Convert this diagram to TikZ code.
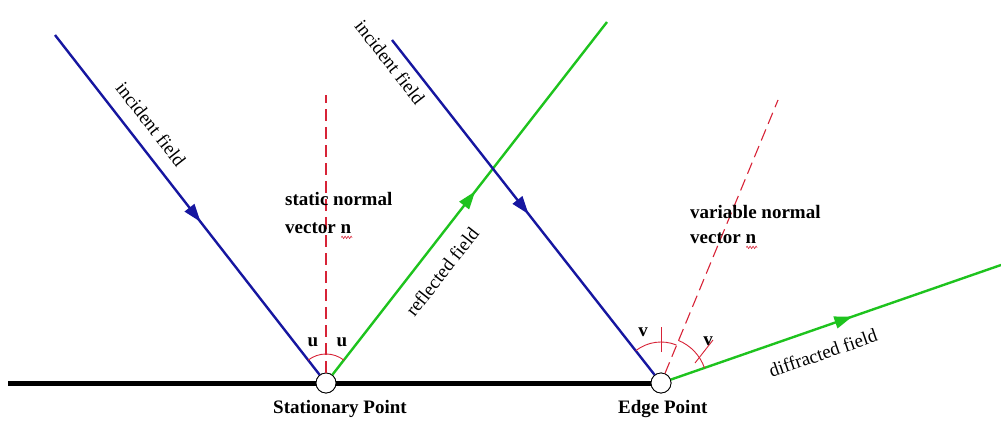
\documentclass[tikz,border=0pt]{standalone}
\usepackage{fontspec}
\setmainfont{Liberation Serif}
\usetikzlibrary{decorations.markings,decorations.pathmorphing,arrows.meta,calc}
\definecolor{rayblue}{RGB}{22,22,160}
\definecolor{raygreen}{RGB}{30,195,30}
\definecolor{nred}{RGB}{215,35,55}
\begin{document}
\begin{tikzpicture}[x=1pt,y=1pt,
  lbl/.style={font=\fontsize{19}{23}\selectfont, inner sep=0pt},
  blbl/.style={font=\fontsize{19}{23}\selectfont\bfseries, inner sep=0pt},
  ray/.style={line width=2.4pt, postaction={decorate},
    decoration={markings, mark=at position #1 with {\arrow{Triangle[length=18pt,width=12pt]}}}},
  incray/.style={ray=#1, draw=rayblue, fill=rayblue},
  refray/.style={ray=#1, draw=raygreen, fill=raygreen},
  normalline/.style={draw=nred, line width=1.1pt, dash pattern=on 12pt off 6pt},
  anglearc/.style={draw=nred, line width=0.9pt},
  pt/.style={circle, draw=black, fill=white, line width=0.8pt, minimum size=20pt, inner sep=0pt},
  squig/.style={draw=nred, line width=0.6pt, decorate, decoration={zigzag, segment length=3pt, amplitude=1.2pt}}
]
\useasboundingbox (0,0) rectangle (1001,-423);
% ground
\coordinate (gl) at (8,-383);
\node[pt] (sp) at (326,-383) {};
\node[pt] (ep) at (661,-383) {};
\draw[line width=5pt] (gl) -- (sp) -- (ep);
\node[pt] at (sp) {};
\node[pt] at (ep) {};
% free ends
\coordinate (i1) at (55,-35);
\coordinate (i2) at (392,-40);
\coordinate (r1) at (607,-22);
\coordinate (d1) at (1001,-265);
\coordinate (n1) at (326,-95);
\coordinate (n2) at (778,-100);
% normals
\draw[normalline] (sp) -- (n1);
\draw[normalline] (ep) -- (n2);
% rays
\draw[incray=0.55] (i1) -- (sp);
\draw[refray=0.52] (sp) -- (r1);
\draw[incray=0.52] (i2) -- (ep);
\draw[refray=0.55] (ep) -- (d1);
% angle arcs
\draw[anglearc] ($(sp.center)+(128:29)$) arc[start angle=128, end angle=90, radius=29];
\draw[anglearc] ($(sp.center)+(90:29)$) arc[start angle=90, end angle=52, radius=29];
\draw[anglearc] ($(ep.center)+(128:41)$) arc[start angle=128, end angle=68, radius=41];
\draw[anglearc] ($(ep.center)+(68:46)$) arc[start angle=68, end angle=19, radius=46];
\draw[anglearc] ($(ep.center)+(90:31)$) -- ($(ep.center)+(90:56)$);
\draw[anglearc] ($(ep.center)+(34,20)$) -- ($(ep.center)+(52,43)$);
% angle labels
\node[blbl] (u1) at (313,-342) {u};
\node[blbl] (u2) at (342,-342) {u};
\node[blbl] (v1) at (643,-332) {v};
\node[blbl] (v2) at (708,-341) {v};
% point labels
\node[blbl, anchor=base west] (spl) at (273,-413) {Stationary Point};
\node[blbl, anchor=base west] (epl) at (618,-413) {Edge Point};
% normal labels
\node[blbl, anchor=base west] (sn1) at (285,-205) {static normal};
\node[blbl, anchor=base west] (sn2) at (285,-233) {vector n};
\node[blbl, anchor=base west] (vn1) at (690,-218) {variable normal};
\node[blbl, anchor=base west] (vn2) at (690,-243) {vector n};
\draw[squig] ($(sn2.south east)+(-10,-4)$) -- ($(sn2.south east)+(1,-4)$);
\draw[squig] ($(vn2.south east)+(-10,-4)$) -- ($(vn2.south east)+(1,-4)$);
% ray labels
\node[lbl, rotate=-52] (il1) at (151,-124) {incident field};
\node[lbl, rotate=-52] (il2) at (390,-62) {incident field};
\node[lbl, rotate=52] (rl) at (442,-272) {reflected field};
\node[lbl, rotate=19] (dl) at (823,-353) {diffracted field};
\end{tikzpicture}
\end{document}
